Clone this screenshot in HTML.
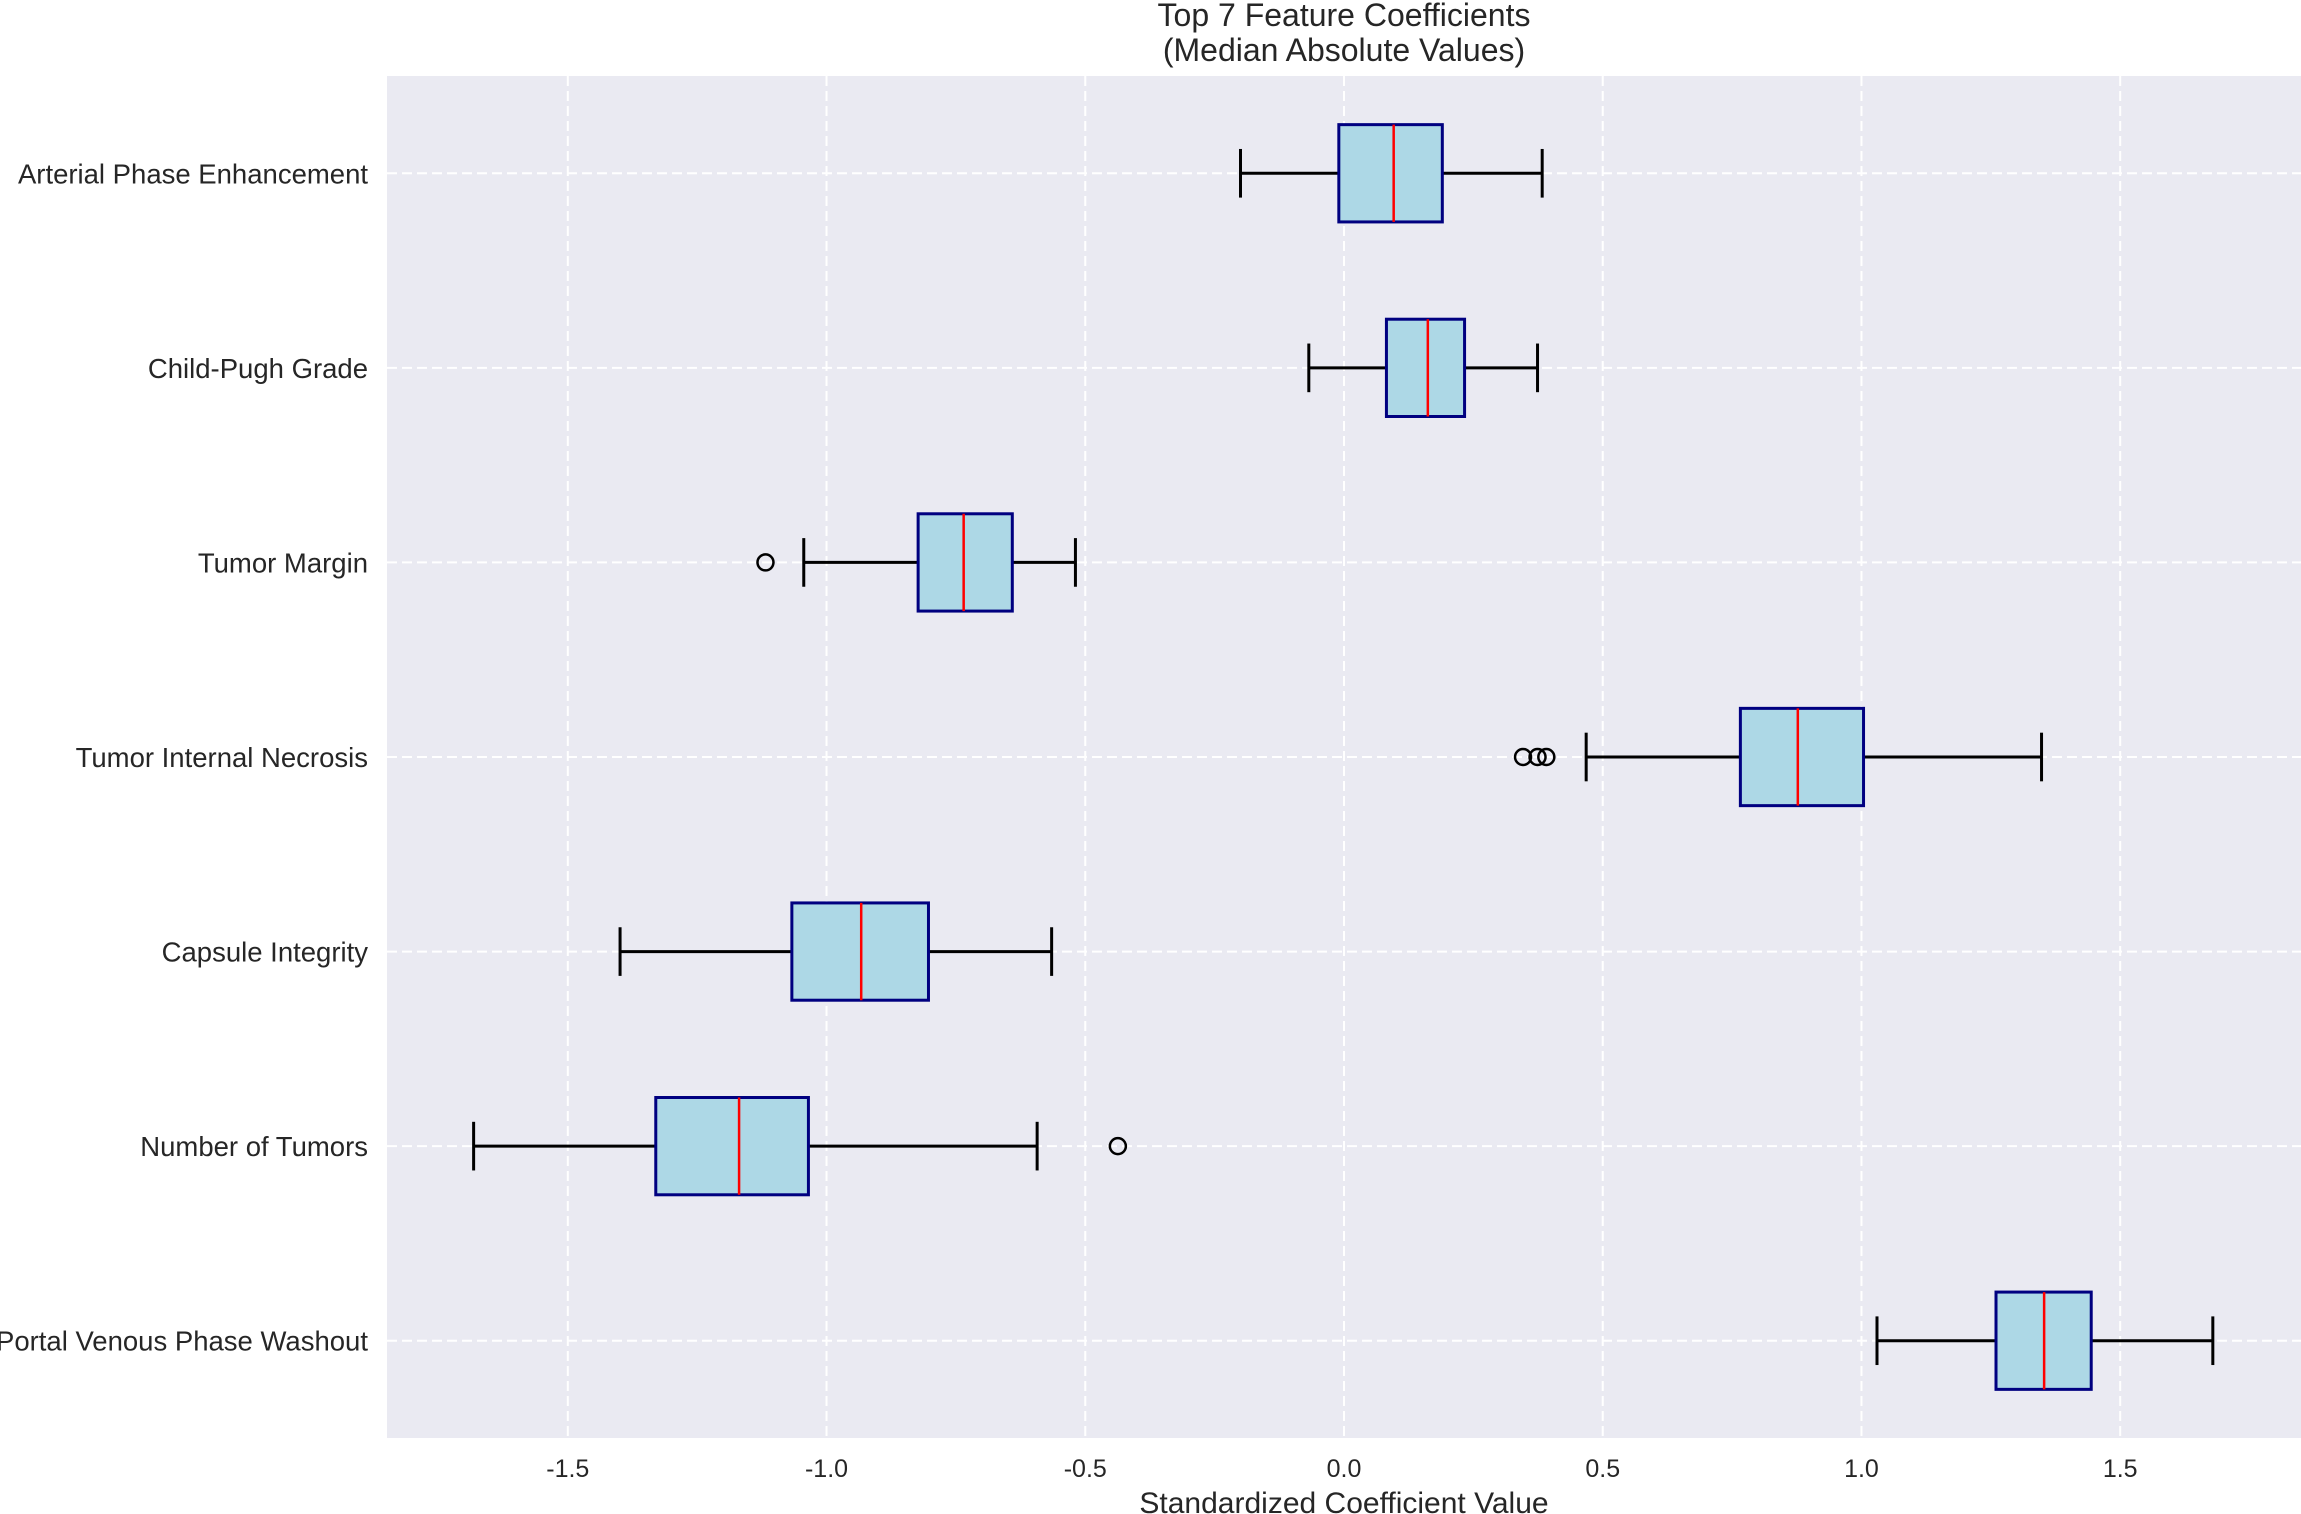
<!DOCTYPE html>
<html><head><meta charset="utf-8"><style>
html,body{margin:0;padding:0;background:#fff;}
svg{display:block;font-family:"Liberation Sans",Arial,sans-serif;}
</style></head><body>
<svg id="chart" width="2301" height="1514" xmlns="http://www.w3.org/2000/svg"></svg>
<script>
const categories=["Arterial Phase Enhancement","Child-Pugh Grade","Tumor Margin","Tumor Internal Necrosis","Capsule Integrity","Number of Tumors","Portal Venous Phase Washout"];
const whiskLow=[-0.20,-0.068,-1.044,0.468,-1.399,-1.682,1.030];
const q1=[-0.01,0.082,-0.823,0.766,-1.067,-1.330,1.260];
const medians=[0.096,0.162,-0.735,0.877,-0.933,-1.169,1.353];
const q3=[0.19,0.233,-0.641,1.004,-0.803,-1.035,1.444];
const whiskHigh=[0.383,0.374,-0.519,1.348,-0.565,-0.593,1.679];
const outliers=[[],[],[-1.118],[0.346,0.374,0.391],[],[-0.437],[]];
const xTicks=[-1.5,-1.0,-0.5,0.0,0.5,1.0,1.5];
const xTickLabels=["-1.5","-1.0","-0.5","0.0","0.5","1.0","1.5"];

const L=387,R=2301,T=76,B=1438;
const xmin=-1.8494,xmax=1.8494;
const x=v=>L+(v-xmin)/(xmax-xmin)*(R-L);
const y=i=>T+(i+0.5)/7*(B-T);
const NS="http://www.w3.org/2000/svg";
const svg=document.getElementById('chart');
function mk(tag,attrs,parent){const e=document.createElementNS(NS,tag);for(const k in attrs)e.setAttribute(k,attrs[k]);(parent||svg).appendChild(e);return e;}

const bg=mk('rect',{x:L,y:T,width:R-L,height:B-T,fill:'#eaeaf2'});



xTicks.forEach((t,i)=>{
  const g=mk('line',{x1:x(t),x2:x(t),y1:T,y2:B,stroke:'#fff','stroke-width':2,'stroke-dasharray':'10,5'});
  
  
  const tx=mk('text',{x:x(t),y:1477,'font-size':25,'text-anchor':'middle',fill:'#262626'});
  tx.textContent=xTickLabels[i];
  
  
});
categories.forEach((c,i)=>{
  const g=mk('line',{x1:L,x2:R,y1:y(i),y2:y(i),stroke:'#fff','stroke-width':2,'stroke-dasharray':'10,5'});
  
  
  const tx=mk('text',{x:368,y:y(i)+10,'font-size':27.5,'text-anchor':'end',fill:'#262626'});
  tx.textContent=c;
  
  
});

const hb=0.25/7*(B-T), hc=0.125/7*(B-T);
categories.forEach((c,i)=>{
  const cy=y(i);
  const grp=mk('g',{});
  
  
  mk('line',{x1:x(whiskLow[i]),x2:x(q1[i]),y1:cy,y2:cy,stroke:'#000','stroke-width':3},grp);
  mk('line',{x1:x(q3[i]),x2:x(whiskHigh[i]),y1:cy,y2:cy,stroke:'#000','stroke-width':3},grp);
  mk('line',{x1:x(whiskLow[i]),x2:x(whiskLow[i]),y1:cy-hc,y2:cy+hc,stroke:'#000','stroke-width':3},grp);
  mk('line',{x1:x(whiskHigh[i]),x2:x(whiskHigh[i]),y1:cy-hc,y2:cy+hc,stroke:'#000','stroke-width':3},grp);
  mk('rect',{x:x(q1[i]),y:cy-hb,width:x(q3[i])-x(q1[i]),height:2*hb,fill:'#add8e6',stroke:'#000080','stroke-width':3},grp);
  mk('line',{x1:x(medians[i]),x2:x(medians[i]),y1:cy-hb,y2:cy+hb,stroke:'#ff0000','stroke-width':2.5},grp);
  outliers[i].forEach(o=>{
    const ci=mk('circle',{cx:x(o),cy:cy,r:8,fill:'none',stroke:'#000','stroke-width':2.5},grp);
    
    
  });
});

const t1=mk('text',{x:1344,y:26,'font-size':32,'text-anchor':'middle',fill:'#262626'});
t1.textContent='Top 7 Feature Coefficients';


const t2=mk('text',{x:1344,y:61,'font-size':32,'text-anchor':'middle',fill:'#262626'});
t2.textContent='(Median Absolute Values)';


const xl=mk('text',{x:1344,y:1513,'font-size':30,'text-anchor':'middle',fill:'#262626'});
xl.textContent='Standardized Coefficient Value';


</script>
</body></html>
